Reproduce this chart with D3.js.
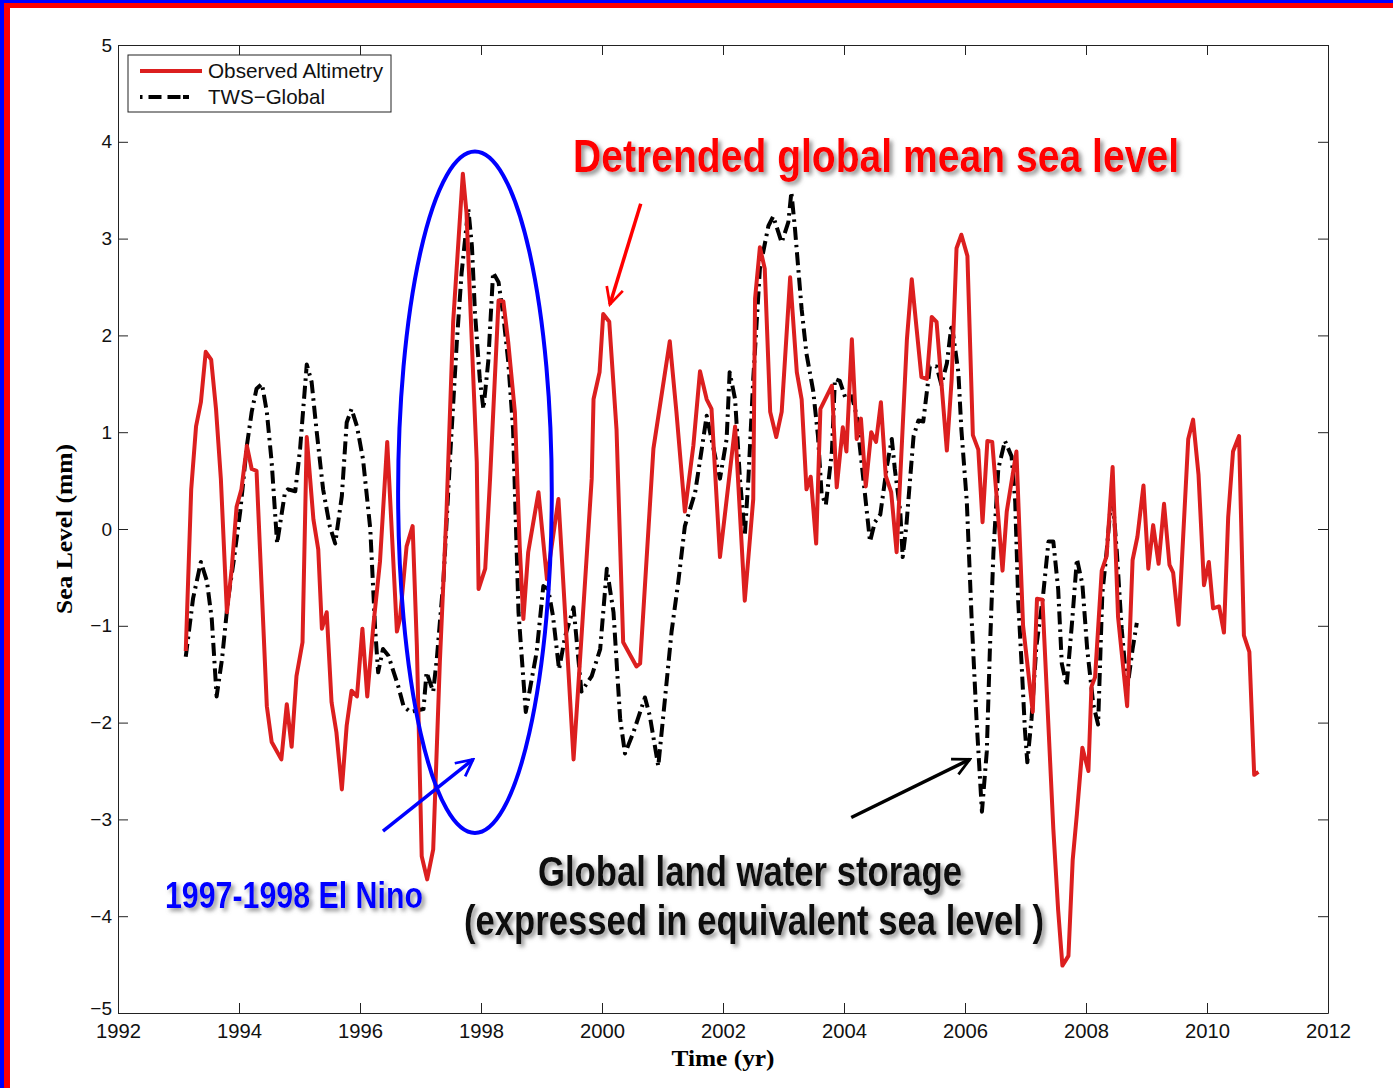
<!DOCTYPE html>
<html>
<head>
<meta charset="utf-8">
<script src="https://cdn.jsdelivr.net/npm/d3@7"></script>
<style>
  body { margin: 0; background: #fff; }
  svg { display: block; }
</style>
</head>
<body>
<svg id="chart"></svg>
<script>
// observed altimetry (detrended GMSL), [year, mm]
var altimetry = [
  [1993.12,-1.26],[1993.21,0.41],[1993.29,1.06],[1993.37,1.31],[1993.45,1.83],[1993.54,1.75],
  [1993.62,1.24],[1993.70,0.52],[1993.80,-0.86],[1993.88,-0.41],[1993.96,0.23],[1994.04,0.41],
  [1994.13,0.86],[1994.21,0.62],[1994.29,0.60],[1994.46,-1.83],[1994.54,-2.20],[1994.70,-2.38],
  [1994.79,-1.81],[1994.87,-2.25],[1994.95,-1.52],[1995.05,-1.17],[1995.12,0.95],[1995.23,0.10],
  [1995.31,-0.21],[1995.37,-1.03],[1995.45,-0.86],[1995.53,-1.79],[1995.61,-2.10],[1995.70,-2.69],
  [1995.78,-2.03],[1995.86,-1.67],[1995.95,-1.73],[1996.04,-1.03],[1996.12,-1.73],[1996.22,-1.00],
  [1996.33,-0.34],[1996.45,0.90],[1996.61,-1.06],[1996.66,-0.93],[1996.77,-0.18],[1996.87,0.03],
  [1996.94,-1.21],[1997.02,-3.38],[1997.11,-3.62],[1997.21,-3.31],[1997.32,-1.37],[1997.43,0.18],
  [1997.54,2.14],[1997.70,3.67],[1997.76,3.27],[1997.93,0.69],[1997.96,-0.62],[1998.07,-0.41],
  [1998.15,0.52],[1998.29,2.36],[1998.37,2.35],[1998.45,1.93],[1998.56,1.21],[1998.64,-0.18],
  [1998.70,-0.93],[1998.78,-0.24],[1998.95,0.38],[1999.09,-0.52],[1999.28,0.31],[1999.53,-2.38],
  [1999.83,0.52],[1999.86,1.34],[1999.96,1.62],[2000.02,2.22],[2000.12,2.14],[2000.24,1.03],
  [2000.35,-1.17],[2000.57,-1.42],[2000.63,-1.39],[2000.85,0.83],[2001.12,1.94],[2001.23,1.21],
  [2001.37,0.18],[2001.51,0.86],[2001.62,1.63],[2001.73,1.34],[2001.81,1.24],[2001.95,-0.29],
  [2002.20,1.06],[2002.36,-0.74],[2002.50,0.31],[2002.53,2.38],[2002.61,2.91],[2002.69,2.69],
  [2002.78,1.21],[2002.88,0.95],[2002.97,1.21],[2003.11,2.60],[2003.22,1.62],[2003.30,1.34],
  [2003.38,0.41],[2003.45,0.54],[2003.54,-0.15],[2003.61,1.24],[2003.80,1.48],[2003.88,0.43],
  [2003.98,1.05],[2004.04,0.80],[2004.13,1.96],[2004.21,0.93],[2004.28,1.14],[2004.36,0.44],
  [2004.45,1.00],[2004.53,0.90],[2004.61,1.31],[2004.69,0.55],[2004.78,0.38],[2004.87,-0.24],
  [2005.04,1.96],[2005.12,2.58],[2005.20,2.07],[2005.28,1.57],[2005.37,1.55],[2005.45,2.19],
  [2005.53,2.14],[2005.70,0.81],[2005.78,1.55],[2005.86,2.90],[2005.94,3.04],[2006.04,2.82],
  [2006.13,0.97],[2006.22,0.82],[2006.29,0.07],[2006.37,0.91],[2006.45,0.90],[2006.62,-0.43],
  [2006.69,0.18],[2006.85,0.80],[2006.96,-1.00],[2007.12,-1.89],[2007.19,-0.72],[2007.28,-0.73],
  [2007.46,-3.10],[2007.54,-3.94],[2007.61,-4.51],[2007.71,-4.41],[2007.78,-3.42],[2007.85,-2.94],
  [2007.94,-2.26],[2008.04,-2.50],[2008.09,-1.63],[2008.15,-1.53],[2008.26,-0.43],[2008.34,-0.28],
  [2008.44,0.64],[2008.53,-0.91],[2008.68,-1.83],[2008.77,-0.32],[2008.85,-0.08],[2008.95,0.45],
  [2009.03,-0.41],[2009.11,0.04],[2009.20,-0.36],[2009.29,0.26],[2009.38,-0.37],[2009.44,-0.45],
  [2009.53,-0.99],[2009.69,0.93],[2009.77,1.13],[2009.86,0.56],[2009.95,-0.58],[2010.03,-0.34],
  [2010.10,-0.82],[2010.20,-0.80],[2010.28,-1.07],[2010.35,0.12],[2010.43,0.80],[2010.53,0.96],
  [2010.61,-1.10],[2010.70,-1.27],[2010.78,-2.54],[2010.85,-2.51]
];

// land water storage in equivalent sea level, [year, mm]
var twsGlobal = [
  [1993.12,-1.32],[1993.24,-0.72],[1993.37,-0.34],[1993.47,-0.54],[1993.55,-0.93],[1993.63,-1.73],
  [1993.72,-1.34],[1993.82,-0.72],[1993.91,-0.34],[1994.02,0.18],[1994.13,0.86],[1994.21,1.21],
  [1994.29,1.45],[1994.38,1.50],[1994.46,1.21],[1994.54,0.69],[1994.63,-0.15],[1994.76,0.38],
  [1994.81,0.41],[1994.93,0.39],[1995.01,0.83],[1995.12,1.70],[1995.20,1.52],[1995.28,1.03],
  [1995.39,0.41],[1995.50,0.03],[1995.59,-0.15],[1995.70,0.34],[1995.78,1.10],[1995.86,1.24],
  [1995.95,1.06],[1996.05,0.72],[1996.17,0.00],[1996.25,-1.03],[1996.30,-1.48],[1996.38,-1.24],
  [1996.47,-1.31],[1996.63,-1.62],[1996.72,-1.83],[1996.83,-1.89],[1997.05,-1.86],[1997.10,-1.48],
  [1997.21,-1.68],[1997.27,-1.34],[1997.38,-0.52],[1997.49,0.75],[1997.60,1.93],[1997.68,2.65],
  [1997.79,3.31],[1997.85,2.92],[1997.90,2.24],[1997.98,1.55],[1998.04,1.24],[1998.12,1.73],
  [1998.20,2.65],[1998.29,2.55],[1998.37,2.20],[1998.45,1.73],[1998.53,1.03],[1998.62,-0.86],
  [1998.70,-1.55],[1998.74,-1.89],[1998.92,-1.27],[1999.03,-0.59],[1999.11,-0.62],[1999.19,-0.90],
  [1999.29,-1.45],[1999.39,-1.11],[1999.53,-0.81],[1999.66,-1.68],[1999.83,-1.52],[1999.97,-1.24],
  [2000.08,-0.41],[2000.19,-0.86],[2000.30,-1.96],[2000.38,-2.32],[2000.52,-2.10],[2000.71,-1.74],
  [2000.79,-1.93],[2000.93,-2.45],[2001.04,-1.76],[2001.15,-1.06],[2001.26,-0.55],[2001.37,0.03],
  [2001.54,0.38],[2001.65,0.83],[2001.73,1.17],[2001.89,0.69],[2001.95,0.52],[2002.06,0.93],
  [2002.11,1.62],[2002.20,1.34],[2002.28,0.52],[2002.36,-0.07],[2002.42,0.52],[2002.50,1.55],
  [2002.61,2.69],[2002.75,3.13],[2002.83,3.23],[2002.97,2.96],[2003.08,3.17],[2003.13,3.48],
  [2003.19,3.10],[2003.30,2.27],[2003.38,1.81],[2003.49,1.43],[2003.57,0.96],[2003.63,0.36],
  [2003.70,0.25],[2003.80,0.80],[2003.85,1.55],[2003.93,1.53],[2004.03,1.34],[2004.13,1.37],
  [2004.21,1.17],[2004.26,0.86],[2004.35,0.34],[2004.43,-0.13],[2004.51,0.07],[2004.60,0.15],
  [2004.71,0.65],[2004.79,0.93],[2004.84,0.62],[2004.93,0.18],[2004.97,-0.29],[2005.03,0.03],
  [2005.15,0.96],[2005.23,1.12],[2005.31,1.11],[2005.42,1.68],[2005.53,1.68],[2005.61,1.49],
  [2005.70,1.71],[2005.78,2.12],[2005.89,1.62],[2005.94,1.03],[2006.03,0.28],[2006.11,-0.93],
  [2006.19,-1.96],[2006.28,-2.92],[2006.36,-2.30],[2006.41,-1.27],[2006.47,-0.24],[2006.55,0.62],
  [2006.66,0.91],[2006.77,0.75],[2006.83,0.28],[2006.88,-0.75],[2006.94,-1.45],[2006.99,-2.07],
  [2007.03,-2.41],[2007.10,-1.96],[2007.18,-1.21],[2007.29,-0.69],[2007.38,-0.13],[2007.46,-0.13],
  [2007.54,-0.62],[2007.60,-1.39],[2007.68,-1.62],[2007.77,-0.96],[2007.85,-0.31],[2007.94,-0.57],
  [2008.02,-1.24],[2008.12,-1.81],[2008.20,-2.02],[2008.27,-0.67],[2008.34,-0.24],[2008.43,0.40],
  [2008.51,-0.24],[2008.59,-1.03],[2008.68,-1.66],[2008.77,-1.24],[2008.84,-0.97]
];

var xTicks = [1992, 1994, 1996, 1998, 2000, 2002, 2004, 2006, 2008, 2010, 2012];
var yTicks = [-5, -4, -3, -2, -1, 0, 1, 2, 3, 4, 5];
var seriesNames = ["Observed Altimetry", "TWS\u2212Global"];

var W = 1393, H = 1088;
var margin = {top: 45, right: 65, bottom: 75, left: 118};
var width = W - margin.left - margin.right;
var height = H - margin.top - margin.bottom;

var RED = "#dc1f1f";
var DASH = "13,5,2.5,5";
var TICKFONT = "Liberation Sans, Arial, sans-serif";

var svg = d3.select("#chart").attr("width", W).attr("height", H);

var defs = svg.append("defs");
var f = defs.append("filter").attr("id", "shadow")
    .attr("x", "-10%").attr("y", "-30%").attr("width", "130%").attr("height", "170%");
f.append("feDropShadow").attr("dx", 3).attr("dy", 3).attr("stdDeviation", 2)
    .attr("flood-color", "#777").attr("flood-opacity", 0.8);

function arrowMarker(id, color) {
    defs.append("marker").attr("id", id)
        .attr("viewBox", "0 0 10 10").attr("refX", 9).attr("refY", 5)
        .attr("markerWidth", 6).attr("markerHeight", 6)
        .attr("markerUnits", "strokeWidth").attr("orient", "auto")
        .append("path").attr("d", "M1,1 L9,5 L1,9")
        .attr("fill", "none").attr("stroke", color).attr("stroke-width", 1.3);
}
arrowMarker("arrRed", "#ff0000");
arrowMarker("arrBlue", "#0000ff");
arrowMarker("arrBlack", "#000");

// slide frame
svg.append("rect").attr("x", 0).attr("y", 0).attr("width", W).attr("height", 3).attr("fill", "#0000ff");
svg.append("rect").attr("x", 0).attr("y", 3).attr("width", W).attr("height", 5).attr("fill", "#ff0000");
svg.append("rect").attr("x", 0).attr("y", 0).attr("width", 4).attr("height", H).attr("fill", "#0000ff");
svg.append("rect").attr("x", 4).attr("y", 3).attr("width", 6).attr("height", H).attr("fill", "#ff0000");

var g = svg.append("g")
    .attr("transform", "translate(" + margin.left + "," + margin.top + ")");

var x = d3.scaleLinear().domain([1992, 2012]).range([0, width]);
var y = d3.scaleLinear().domain([-5, 5]).range([height, 0]);

function styleAxis(sel) {
    sel.selectAll("path, line").attr("stroke", "#222").attr("stroke-width", 1);
    sel.selectAll("text").attr("fill", "#111")
        .attr("font-family", TICKFONT).attr("font-size", 20);
}

g.append("g").attr("transform", "translate(0," + height + ")")
    .call(d3.axisBottom(x).tickValues(xTicks).tickFormat(d3.format("d"))
        .tickSizeInner(-10).tickSizeOuter(0).tickPadding(11))
    .call(styleAxis)
    .selectAll("text").attr("textLength", 45).attr("lengthAdjust", "spacingAndGlyphs");
g.append("g")
    .call(d3.axisTop(x).tickValues(xTicks).tickFormat("")
        .tickSizeInner(-10).tickSizeOuter(0))
    .call(styleAxis);
g.append("g")
    .call(d3.axisLeft(y).tickValues(yTicks).tickFormat(d3.format("d"))
        .tickSizeInner(-10).tickSizeOuter(0).tickPadding(6))
    .call(styleAxis)
    .selectAll("text").attr("font-size", 19)
    .attr("dy", function(d) { return d === -5 ? "0.1em" : "0.32em"; });
g.append("g").attr("transform", "translate(" + width + ",0)")
    .call(d3.axisRight(y).tickValues(yTicks).tickFormat("")
        .tickSizeInner(-10).tickSizeOuter(0))
    .call(styleAxis);

svg.append("text")
    .attr("x", margin.left + x(2002)).attr("y", 1066)
    .attr("text-anchor", "middle")
    .attr("font-family", "Liberation Serif, Times New Roman, serif")
    .attr("font-weight", "bold").attr("font-size", 24)
    .attr("textLength", 103).attr("lengthAdjust", "spacingAndGlyphs")
    .text("Time (yr)");
svg.append("text")
    .attr("transform", "translate(72," + (margin.top + y(0)) + ") rotate(-90)")
    .attr("text-anchor", "middle")
    .attr("font-family", "Liberation Serif, Times New Roman, serif")
    .attr("font-weight", "bold").attr("font-size", 23)
    .attr("textLength", 170).attr("lengthAdjust", "spacingAndGlyphs")
    .text("Sea Level (mm)");

var line = d3.line()
    .x(function(d) { return x(d[0]); })
    .y(function(d) { return y(d[1]); });

g.append("path").datum(twsGlobal)
    .attr("fill", "none").attr("stroke", "#000").attr("stroke-width", 4)
    .attr("stroke-dasharray", DASH).attr("stroke-linejoin", "round")
    .attr("d", line);
g.append("path").datum(altimetry)
    .attr("fill", "none").attr("stroke", RED).attr("stroke-width", 4)
    .attr("stroke-linejoin", "round")
    .attr("d", line);

// legend
var lg = g.append("g").attr("transform", "translate(10,10)");
lg.append("rect").attr("width", 263).attr("height", 57)
    .attr("fill", "#fff").attr("stroke", "#222").attr("stroke-width", 1);
var legendStyles = [
    {stroke: RED, dash: null},
    {stroke: "#000", dash: "2.5,6,13,6,13"}
];
seriesNames.forEach(function(name, i) {
    var ly = 16 + i * 26;
    lg.append("line").attr("x1", 12).attr("x2", 74).attr("y1", ly).attr("y2", ly)
        .attr("stroke", legendStyles[i].stroke).attr("stroke-width", 4)
        .attr("stroke-dasharray", legendStyles[i].dash);
    lg.append("text").attr("x", 80).attr("y", ly).attr("dy", "0.35em")
        .attr("font-family", "Liberation Sans, Arial, sans-serif").attr("font-size", 21)
        .attr("textLength", i === 0 ? 175 : 117).attr("lengthAdjust", "spacingAndGlyphs")
        .attr("fill", "#111").text(name);
});

// annotations (positions in data units)
var ann = g.append("g");
ann.append("ellipse")
    .attr("cx", x(1997.9)).attr("cy", y(0.38))
    .attr("rx", x(1999.17) - x(1997.9)).attr("ry", y(0) - y(3.52))
    .attr("fill", "none").attr("stroke", "#0000ff").attr("stroke-width", 4);

function arrow(x1, y1, x2, y2, color, marker) {
    ann.append("line")
        .attr("x1", x(x1)).attr("y1", y(y1)).attr("x2", x(x2)).attr("y2", y(y2))
        .attr("stroke", color).attr("stroke-width", 3.5)
        .attr("marker-end", "url(#" + marker + ")");
}
arrow(1996.38, -3.12, 1997.87, -2.38, "#0000ff", "arrBlue");
arrow(2000.64, 3.36, 2000.13, 2.32, "#ff0000", "arrRed");
arrow(2004.12, -2.98, 2006.08, -2.38, "#000", "arrBlack");

function label(txt, cx, by, size, len, color) {
    svg.append("text")
        .attr("x", cx).attr("y", by)
        .attr("text-anchor", "middle")
        .attr("font-family", "Liberation Sans Narrow, Arial Narrow, sans-serif")
        .attr("font-weight", "bold").attr("font-size", size)
        .attr("textLength", len).attr("lengthAdjust", "spacingAndGlyphs")
        .attr("fill", color).attr("filter", "url(#shadow)")
        .text(txt);
}
label("Detrended global mean sea level", 876, 172, 46, 606, "#ff0000");
label("1997-1998 El Nino", 294, 908, 37, 258, "#0000ff");
label("Global land water storage", 750, 886, 42, 424, "#111");
label("(expressed in equivalent sea level )", 754, 935, 42, 580, "#111");
</script>
</body>
</html>
